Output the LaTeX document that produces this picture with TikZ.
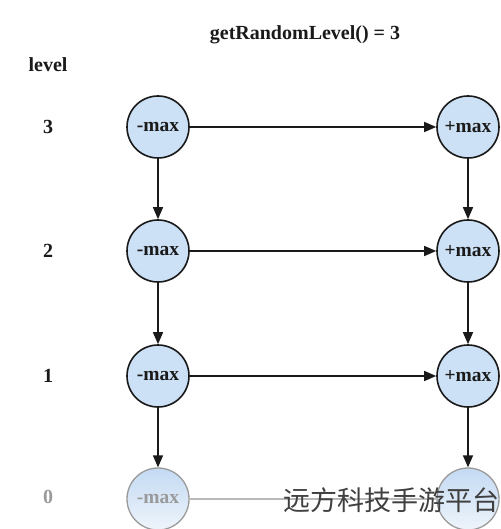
\documentclass[tikz,border=0pt]{standalone}
\usepackage{fontspec}
\setmainfont{Liberation Serif}
\newfontfamily\cjk{Noto Sans CJK SC}
\usetikzlibrary{arrows.meta}
\definecolor{nodefill}{HTML}{CCE0F6}
\definecolor{fadetop}{HTML}{C4DAF3}
\definecolor{fadebot}{HTML}{EEF4FB}
\definecolor{edgecol}{HTML}{1A1A1A}
\definecolor{fadetext}{HTML}{9A9A9A}
\tikzset{
  circ/.style={circle, minimum size=62pt, inner sep=0pt, draw=edgecol, line width=1.6pt, fill=nodefill, font=\fontsize{19.5}{21}\selectfont\bfseries, text=edgecol},
  fadecirc/.style={circle, minimum size=62pt, inner sep=0pt, draw=gray!80, line width=1.3pt, top color=fadetop, bottom color=fadebot, font=\fontsize{19.5}{21}\selectfont\bfseries, text=fadetext},
  lbl/.style={font=\fontsize{20}{22}\selectfont\bfseries, text=edgecol},
  conn/.style={line width=1.4pt, draw=edgecol, -{Triangle[length=12pt,width=10pt]}},
  fadeconn/.style={line width=1.3pt, draw=gray!55},
}
\begin{document}
\begin{tikzpicture}[x=1pt,y=-1pt]
\useasboundingbox[fill=white] (0,0) rectangle (500,529);
\node[lbl] (title) at (305,35) {getRandomLevel() = 3};
\node[lbl] (lev) at (48,65) {level};
\node[lbl] (n3) at (48,127) {3};
\node[lbl] (n2) at (48,251) {2};
\node[lbl] (n1) at (48,376) {1};
\node[lbl, text=fadetext] (n0) at (48,497) {0};
\node[circ] (L3) at (158,127) {-max};
\node[circ] (R3) at (468,127) {+max};
\node[circ] (L2) at (158,251) {-max};
\node[circ] (R2) at (468,251) {+max};
\node[circ] (L1) at (158,376) {-max};
\node[circ] (R1) at (468,376) {+max};
\node[fadecirc] (L0) at (158,499) {-max};
\node[fadecirc] (R0) at (468,499) {};
\draw[conn] (L3) -- (R3);
\draw[conn] (L2) -- (R2);
\draw[conn] (L1) -- (R1);
\draw[fadeconn] (L0.east) -- (R0.west);
\draw[conn] (L3) -- (L2);
\draw[conn] (L2) -- (L1);
\draw[conn] (L1) -- (L0);
\draw[conn] (R3) -- (R2);
\draw[conn] (R2) -- (R1);
\draw[conn] (R1) -- (R0);
\node[anchor=east, inner sep=0pt, font=\cjk\fontsize{27}{29}\selectfont, text=black!75] (wm) at (500,500) {远方科技手游平台};
\end{tikzpicture}
\end{document}
